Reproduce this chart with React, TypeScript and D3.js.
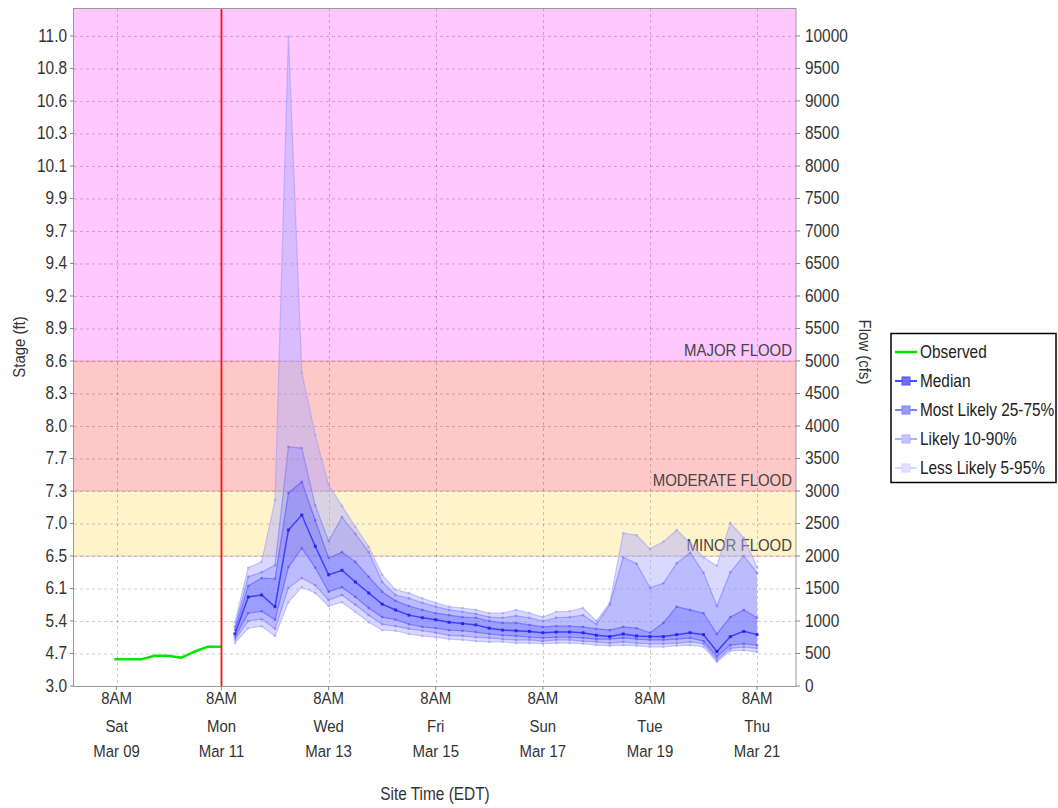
import React from "react";
import * as d3 from "d3";

// ---------- data ----------
const flowTicks = [0, 500, 1000, 1500, 2000, 2500, 3000, 3500, 4000, 4500, 5000, 5500, 6000, 6500, 7000, 7500, 8000, 8500, 9000, 9500, 10000];
const stageTickLabels = ["3.0", "4.7", "5.4", "6.1", "6.5", "7.0", "7.3", "7.7", "8.0", "8.3", "8.6", "8.9", "9.2", "9.4", "9.7", "9.9", "10.1", "10.3", "10.6", "10.8", "11.0"];

const xTickTimes = ["2019-03-09T13:00:00Z", "2019-03-11T12:00:00Z", "2019-03-13T12:00:00Z", "2019-03-15T12:00:00Z", "2019-03-17T12:00:00Z", "2019-03-19T12:00:00Z", "2019-03-21T12:00:00Z"];
const xTickHour = ["8AM", "8AM", "8AM", "8AM", "8AM", "8AM", "8AM"];
const xTickDay = ["Sat", "Mon", "Wed", "Fri", "Sun", "Tue", "Thu"];
const xTickDate = ["Mar 09", "Mar 11", "Mar 13", "Mar 15", "Mar 17", "Mar 19", "Mar 21"];

const floodLevels = [
  { name: "MINOR FLOOD", from: 2000, to: 3000, color: "#FFF3CC" },
  { name: "MODERATE FLOOD", from: 3000, to: 5000, color: "#FFC8C8" },
  { name: "MAJOR FLOOD", from: 5000, to: 10430, color: "#FFC8FF" },
];

const currentTime = "2019-03-11T12:00:00Z";

const observedTimes = ["2019-03-09T12:00:00Z", "2019-03-09T18:00:00Z", "2019-03-10T00:00:00Z", "2019-03-10T06:00:00Z", "2019-03-10T12:00:00Z", "2019-03-10T18:00:00Z", "2019-03-11T00:00:00Z", "2019-03-11T06:00:00Z", "2019-03-11T12:00:00Z"];
const observedFlow = [410, 410, 410, 465, 465, 435, 530, 605, 605];

const forecastStart = "2019-03-11T18:00:00Z";
const forecastStepHours = 6;
const p5 = [660, 890, 920, 770, 1290, 1520, 1430, 1230, 1290, 1140, 980, 860, 850, 800, 770, 750, 720, 710, 690, 680, 680, 660, 660, 650, 660, 660, 650, 630, 620, 630, 620, 600, 600, 620, 630, 600, 370, 540, 550, 520];
const p10 = [710, 1000, 1030, 880, 1510, 1660, 1550, 1320, 1400, 1250, 1090, 950, 920, 880, 850, 820, 780, 770, 750, 740, 720, 710, 710, 690, 710, 710, 690, 680, 660, 680, 660, 650, 650, 660, 680, 650, 400, 580, 600, 580];
const p25 = [750, 1120, 1150, 1020, 1830, 2120, 1820, 1450, 1520, 1370, 1200, 1060, 1020, 950, 910, 890, 860, 850, 830, 800, 780, 770, 750, 740, 750, 750, 740, 720, 720, 740, 720, 710, 710, 720, 740, 690, 450, 630, 650, 630];
const p50 = [800, 1370, 1400, 1220, 2400, 2630, 2150, 1710, 1780, 1600, 1430, 1260, 1170, 1090, 1050, 1020, 980, 960, 940, 890, 860, 850, 840, 820, 830, 830, 820, 780, 760, 800, 770, 760, 760, 790, 820, 790, 530, 760, 840, 790];
const p75 = [860, 1540, 1660, 1650, 2970, 3140, 2550, 1970, 2060, 1910, 1680, 1450, 1310, 1230, 1170, 1120, 1090, 1060, 1050, 1000, 970, 970, 940, 910, 920, 920, 910, 880, 860, 910, 890, 820, 970, 1220, 1170, 1120, 800, 1060, 1170, 1050];
const p90 = [910, 1680, 1750, 1860, 3680, 3660, 2780, 2230, 2600, 2340, 2060, 1600, 1400, 1350, 1280, 1220, 1170, 1140, 1110, 1060, 1050, 1080, 1050, 1000, 1050, 1060, 1090, 950, 1250, 1980, 1880, 1510, 1580, 1890, 2050, 1740, 1230, 1750, 2000, 1740];
const p95 = [980, 1820, 1910, 2860, 9990, 4820, 3860, 3090, 2770, 2450, 2140, 1710, 1480, 1430, 1350, 1280, 1220, 1200, 1170, 1120, 1120, 1170, 1120, 1060, 1140, 1150, 1200, 1000, 1280, 2350, 2320, 2110, 2220, 2400, 2200, 1980, 1850, 2510, 2280, 1830];

const legendItems = [
  { label: "Observed", kind: "obs" },
  { label: "Median", kind: "median" },
  { label: "Most Likely 25-75%", kind: "b25" },
  { label: "Likely 10-90%", kind: "b10" },
  { label: "Less Likely 5-95%", kind: "b5" },
];

// ---------- chart ----------
const FONT = "'Liberation Sans', Arial, sans-serif";
const SX = 0.88;

function T(props: { x: number; y: number; size: number; anchor?: string; fill?: string; rotate?: number; children: React.ReactNode }) {
  const { x, y, size, anchor = "start", fill = "#333", rotate = 0, children } = props;
  const tr = `translate(${x},${y})${rotate ? ` rotate(${rotate})` : ""} scale(${SX},1)`;
  return (
    <text transform={tr} textAnchor={anchor} fontSize={size} fill={fill}>
      {children}
    </text>
  );
}

export default function App() {
  const W = 1058, H = 808;
  const L = 74, R = 796, TOP = 8, B = 686;

  const x = d3.scaleUtc()
    .domain([new Date("2019-03-08T17:55:00Z"), new Date("2019-03-22T05:26:00Z")])
    .range([L, R]);
  const y = d3.scaleLinear().domain([0, 10430]).range([B, TOP]);

  const t0 = new Date(forecastStart).getTime();
  const fTimes = p50.map((_, i) => new Date(t0 + i * forecastStepHours * 3600 * 1000));
  const idx = d3.range(p50.length);

  const band = (lo: number[], hi: number[]) =>
    d3.area<number>().x((i) => x(fTimes[i])).y0((i) => y(lo[i])).y1((i) => y(hi[i]))(idx) || "";
  const line = (vals: number[]) =>
    d3.line<number>().x((i) => x(fTimes[i])).y((i) => y(vals[i]))(idx) || "";

  const obsLine = d3.line<number>()
    .x((i) => x(new Date(observedTimes[i])))
    .y((i) => y(observedFlow[i]))(d3.range(observedFlow.length)) || "";

  const edgeSeries = [
    { v: p95, c: "rgba(150,150,255,0.5)" },
    { v: p5, c: "rgba(150,150,255,0.5)" },
    { v: p90, c: "rgba(110,110,255,0.5)" },
    { v: p10, c: "rgba(110,110,255,0.5)" },
    { v: p75, c: "rgba(70,70,255,0.5)" },
    { v: p25, c: "rgba(70,70,255,0.5)" },
  ];

  const cx0 = x(new Date(currentTime));

  const legendSym = (kind: string, cx: number, cy: number) => {
    if (kind === "obs") {
      return <line x1={cx - 11} x2={cx + 11} y1={cy} y2={cy} stroke="#00e600" strokeWidth={2.5} />;
    }
    const cols: Record<string, [string, string]> = {
      median: ["#4a4aff", "#7070ff"],
      b25: ["#8080ff", "#9a9aff"],
      b10: ["#b0b0ff", "#c4c4ff"],
      b5: ["#d6d6ff", "#e0e0ff"],
    };
    const [s, f] = cols[kind];
    return (
      <g>
        <line x1={cx - 11} x2={cx + 11} y1={cy} y2={cy} stroke={s} strokeWidth={2} />
        <rect x={cx - 4} y={cy - 4} width={8} height={8} fill={f} stroke={s} strokeWidth={1} />
      </g>
    );
  };

  return (
    <svg width={W} height={H} style={{ position: "absolute", left: 0, top: 0, background: "#fff" }} fontFamily={FONT}>
      <defs>
        <clipPath id="plotclip">
          <rect x={L} y={TOP} width={R - L} height={B - TOP} />
        </clipPath>
      </defs>
      <rect x={0} y={0} width={W} height={H} fill="#fff" />

      <g clipPath="url(#plotclip)">
        {floodLevels.map((f) => (
          <rect key={f.name} x={L} width={R - L} y={y(f.to)} height={y(f.from) - y(f.to)} fill={f.color} />
        ))}
        {floodLevels.map((f) => (
          <line key={f.name + "l"} x1={L} x2={R} y1={y(f.from)} y2={y(f.from)} stroke="rgba(200,80,120,0.35)" strokeWidth={1} />
        ))}
        {/* grid */}
        {flowTicks.slice(1).map((v) => (
          <line key={"hg" + v} x1={L} x2={R} y1={y(v) + 0.5} y2={y(v) + 0.5} stroke="rgba(0,0,0,0.2)" strokeDasharray="3,3" />
        ))}
        {xTickTimes.map((t) => (
          <line key={"vg" + t} x1={Math.round(x(new Date(t))) + 0.5} x2={Math.round(x(new Date(t))) + 0.5} y1={TOP} y2={B} stroke="rgba(0,0,0,0.2)" strokeDasharray="3,3" />
        ))}
        {/* flood labels */}
        {floodLevels.map((f) => (
          <T key={f.name + "t"} x={R - 4} y={y(f.from) - 5} anchor="end" size={17} fill="#444">
            {f.name}
          </T>
        ))}

        {/* ensemble bands */}
        <path d={band(p5, p95)} fill="rgba(170,170,255,0.45)" />
        <path d={band(p10, p90)} fill="rgba(130,130,255,0.34)" />
        <path d={band(p25, p75)} fill="rgba(90,90,255,0.3)" />
        {edgeSeries.map((s, k) => (
          <g key={"e" + k}>
            <path d={line(s.v)} fill="none" stroke={s.c} strokeWidth={1.2} />
            {idx.map((i) => (
              <rect key={i} x={x(fTimes[i]) - 1.2} y={y(s.v[i]) - 1.2} width={2.4} height={2.4} fill={s.c} />
            ))}
          </g>
        ))}
        <path d={line(p50)} fill="none" stroke="rgba(40,40,255,0.8)" strokeWidth={1.5} />
        {idx.map((i) => (
          <rect key={"m" + i} x={x(fTimes[i]) - 1.5} y={y(p50[i]) - 1.5} width={3} height={3} fill="rgba(30,30,240,0.85)" />
        ))}

        {/* observed */}
        <path d={obsLine} fill="none" stroke="#00e600" strokeWidth={2.5} strokeLinejoin="round" />
      </g>

      {/* current time */}
      <rect x={cx0 - 0.9} y={TOP} width={1.8} height={B - TOP} fill="#ff1010" />

      {/* plot outline */}
      <rect x={L - 0.5} y={TOP + 0.5} width={R - L + 0.5} height={B - TOP} fill="none" stroke="#9a9a9a" strokeWidth={1} />

      {/* left axis */}
      {flowTicks.map((v, k) => (
        <g key={"la" + v}>
          <line x1={L - 4} x2={L} y1={y(v)} y2={y(v)} stroke="#888" />
          <T x={L - 7} y={y(v) + 6} anchor="end" size={17.5}>
            {stageTickLabels[k]}
          </T>
        </g>
      ))}
      <T x={24.5} y={347} rotate={-90} anchor="middle" size={17}>
        Stage (ft)
      </T>

      {/* right axis */}
      {flowTicks.map((v) => (
        <g key={"ra" + v}>
          <line x1={R} x2={R + 4} y1={y(v)} y2={y(v)} stroke="#888" />
          <T x={R + 9} y={y(v) + 6} size={17.5}>
            {v}
          </T>
        </g>
      ))}
      <T x={859} y={352} rotate={90} anchor="middle" size={17}>
        Flow (cfs)
      </T>

      {/* bottom axis */}
      {xTickTimes.map((t, k) => {
        const px = x(new Date(t));
        return (
          <g key={"xa" + t}>
            <line x1={px} x2={px} y1={B} y2={B + 4} stroke="#888" />
            <T x={px} y={704} anchor="middle" size={17}>{xTickHour[k]}</T>
            <T x={px} y={732} anchor="middle" size={17}>{xTickDay[k]}</T>
            <T x={px} y={757} anchor="middle" size={17}>{xTickDate[k]}</T>
          </g>
        );
      })}
      <T x={(L + R) / 2} y={800} anchor="middle" size={17.5}>
        Site Time (EDT)
      </T>

      {/* legend */}
      <rect x={891} y={333.5} width={165} height={149} fill="#fff" stroke="#000" strokeWidth={1.5} />
      {legendItems.map((it, k) => {
        const cy = 352 + k * 29;
        return (
          <g key={it.label}>
            {legendSym(it.kind, 906, cy)}
            <T x={920} y={cy + 6} size={17.5} fill="#222">{it.label}</T>
          </g>
        );
      })}
    </svg>
  );
}
